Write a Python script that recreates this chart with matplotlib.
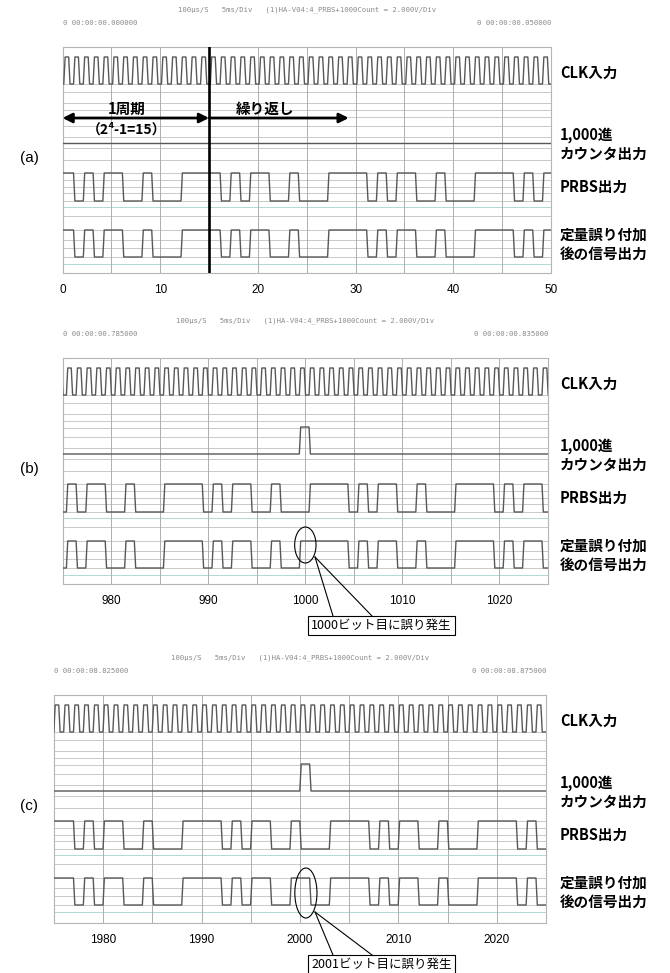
import matplotlib
matplotlib.use("Agg")
import matplotlib.pyplot as plt
from matplotlib.patches import Ellipse, Rectangle
from matplotlib.lines import Line2D

# ---------------- data ----------------
panel_ids = ['(a)', '(b)', '(c)']
x_ranges = [(0, 50), (975, 1025), (1975, 2025)]
tick_values = [[0, 10, 20, 30, 40, 50],
               [980, 990, 1000, 1010, 1020],
               [1980, 1990, 2000, 2010, 2020]]
start_times = ['0 00:00:00.000000', '0 00:00:00.785000', '0 00:00:08.825000']
end_times = ['0 00:00:00.050000', '0 00:00:00.835000', '0 00:00:08.875000']
header = '100\u03bcs/S   5ms/Div   (1)HA-V04:4_PRBS+1000Count = 2.000V/Div'
signal_names = ['CLK入力', '1,000進', 'カウンタ出力', 'PRBS出力', '定量誤り付加', '後の信号出力']

# first bit slot index shown and phase of bit boundaries (in bits)
first_slot = [-1, 974, 1974]
slot_phase = [0.2, 0.45, 0.05]

prbs_bits = [
    "1101011001000111" "101011001000111" "101011001000111" "10101",
    "0101100100011110" "101100100011110" "101100100011110" "10110",
    "11101011001000" "111101011001000" "111101011001000" "1111010",
]
error_bits = [
    "1101011001000111" "101011001000111" "101011001000111" "10101",
    "0101100100011110" "101100100111110" "101100100011110" "10110",
    "11101011001000" "111101011001100" "111101011001000" "1111010",
]
counter_pulse_slots = [[], [999], [2000]]

callout_texts = [None, '1000ビット目に誤り発生', '2001ビット目に誤り発生']
error_marks = [None, (1000.0, 187, 2.2, 36), (2000.6, 198, 2.25, 50)]

# ---------------- layout ----------------
W, H = 670, 973
fig = plt.figure(figsize=(W / 100, H / 100), dpi=100)
plt.rcParams['font.family'] = ['Liberation Sans', 'Noto Sans CJK JP', 'DejaVu Sans']
JP = ['Noto Sans CJK JP', 'DejaVu Sans']

boxes = [(62.5, 47, 551, 273), (62.7, 358, 548, 584), (54, 695, 546, 923)]

def fx(x):
    return x / W

def fy(y):
    return 1 - y / H

def ftext(x, y, s, **kw):
    fig.text(fx(x), fy(y), s, **kw)

# levels (px offset from box top)
CLK_HI, CLK_LO = 10, 37
CNT_HI, CNT_LO = 69, 96
PR_HI, PR_LO = 126, 154
ER_HI, ER_LO = 183, 210
hgrid = [37, 45, 56, 63, 70, 79, 90, 101, 113, 126, 133, 140, 146, 154,
         169, 183, 193, 201, 210]
teal_lines = [160, 217]

EDGE = 0.14
WAVE = '#585858'


def bit_wave(bits, first, phase, hi, lo):
    xs, ys = [], []
    for i, b in enumerate(bits):
        x0 = first + i + phase
        lvl = hi if b == '1' else lo
        xs += [x0 + EDGE / 2, x0 + 1 - EDGE / 2]
        ys += [lvl, lvl]
    return xs, ys


def clock_wave(first, n, phase, hi, lo):
    xs, ys = [], []
    for i in range(n):
        x0 = first + i + phase
        xs += [x0 + EDGE / 2, x0 + 0.5 - EDGE / 2, x0 + 0.5 + EDGE / 2, x0 + 1 - EDGE / 2]
        ys += [hi, hi, lo, lo]
    return xs, ys


for p in range(3):
    l, t, r, b = boxes[p]
    bh = b - t
    ax = fig.add_axes([fx(l), fy(b), (r - l) / W, bh / H])
    xa, xb = x_ranges[p]
    ax.set_xlim(xa, xb)
    ax.set_ylim(bh, 0)
    ax.set_xticks([])
    ax.set_yticks([])
    for s in ax.spines.values():
        s.set_color('#b5b5b5')
        s.set_linewidth(0.8)

    for y in hgrid:
        ax.axhline(y, color='#c9c9c9', lw=0.7, zorder=1)
    for y in teal_lines:
        ax.axhline(y, color='#b3d9d5', lw=0.7, zorder=1)
    for v in range(xa + 5, xb, 5):
        ax.axvline(v, color='#aeaeae', lw=0.7, zorder=1)

    n = len(prbs_bits[p])
    fs, ph = first_slot[p], slot_phase[p]
    cx, cy = clock_wave(fs, n, ph, CLK_HI, CLK_LO)
    ax.plot(cx, cy, color=WAVE, lw=1.0, zorder=3)
    cnt = ''.join('1' if (fs + i) in counter_pulse_slots[p] else '0' for i in range(n))
    kx, ky = bit_wave(cnt, fs, ph, CNT_HI, CNT_LO)
    ax.plot(kx, ky, color=WAVE, lw=1.0, zorder=3)
    px_, py_ = bit_wave(prbs_bits[p], fs, ph, PR_HI, PR_LO)
    ax.plot(px_, py_, color=WAVE, lw=1.0, zorder=3)
    ex, ey = bit_wave(error_bits[p], fs, ph, ER_HI, ER_LO)
    ax.plot(ex, ey, color=WAVE, lw=1.0, zorder=3)

    for v in tick_values[p]:
        ax.text(v, bh + 17, str(v), ha='center', va='center', fontsize=8.5,
                clip_on=False)

    # header texts
    ftext((l + r) / 2, t - 37, header, ha='center', va='center', fontsize=5.2,
          family='DejaVu Sans Mono', color='#8a8a8a')
    ftext(l, t - 24, start_times[p], ha='left', va='center', fontsize=5.2,
          family='DejaVu Sans Mono', color='#8a8a8a')
    ftext(r, t - 24, end_times[p], ha='right', va='center', fontsize=5.2,
          family='DejaVu Sans Mono', color='#8a8a8a')

    # right labels
    lab_y = [26, 88, 107, 140, 188, 207]
    for s, dy in zip(signal_names, lab_y):
        ftext(560, t + dy, s, ha='left', va='center', fontsize=10.5,
              fontweight='bold', family=JP)

    ftext(29, t + 111, panel_ids[p], ha='center', va='center', fontsize=11)

    if p == 0:
        ax.axvline(15, color='black', lw=1.9, zorder=6)
        ax.annotate('', xy=(0, 71), xytext=(15, 71), zorder=6,
                    arrowprops=dict(arrowstyle='<|-|>', lw=2, color='black',
                                    mutation_scale=14, shrinkA=0, shrinkB=0),
                    annotation_clip=False)
        ax.annotate('', xy=(29.3, 71), xytext=(15, 71), zorder=6,
                    arrowprops=dict(arrowstyle='-|>', lw=2, color='black',
                                    mutation_scale=14, shrinkA=0, shrinkB=0))
        ax.text(6.6, 62, '1周期', ha='center', va='center', fontsize=10.5,
                fontweight='bold', family=JP, zorder=7)
        ax.text(6.6, 83, '（2\u2074-1=15）', ha='center', va='center', fontsize=10,
                fontweight='bold', family=JP, zorder=7)
        ax.text(20.7, 62, '繰り返し', ha='center', va='center', fontsize=10.5,
                fontweight='bold', family=JP, zorder=7)
    else:
        ex0, ey0, ew, eh = error_marks[p]
        ax.add_patch(Ellipse((ex0, ey0), ew, eh, fill=False, ec='black',
                             lw=0.8, zorder=7, clip_on=False))
        ly0 = t + ey0 + eh / 2 - 6
        ly1 = b + 32
        for xe in (333, 372):
            fig.add_artist(Line2D([fx(315), fx(xe)], [fy(ly0), fy(ly1)],
                                  color='black', lw=0.8))
        fig.add_artist(Rectangle((fx(308), fy(ly1 + 19)), (455 - 308) / W, 19 / H,
                                 fill=True, fc='white', ec='black', lw=0.8))
        ftext(381.5, ly1 + 9.5, callout_texts[p], ha='center', va='center',
              fontsize=9, family=JP)

fig.savefig('out.png', dpi=100)
